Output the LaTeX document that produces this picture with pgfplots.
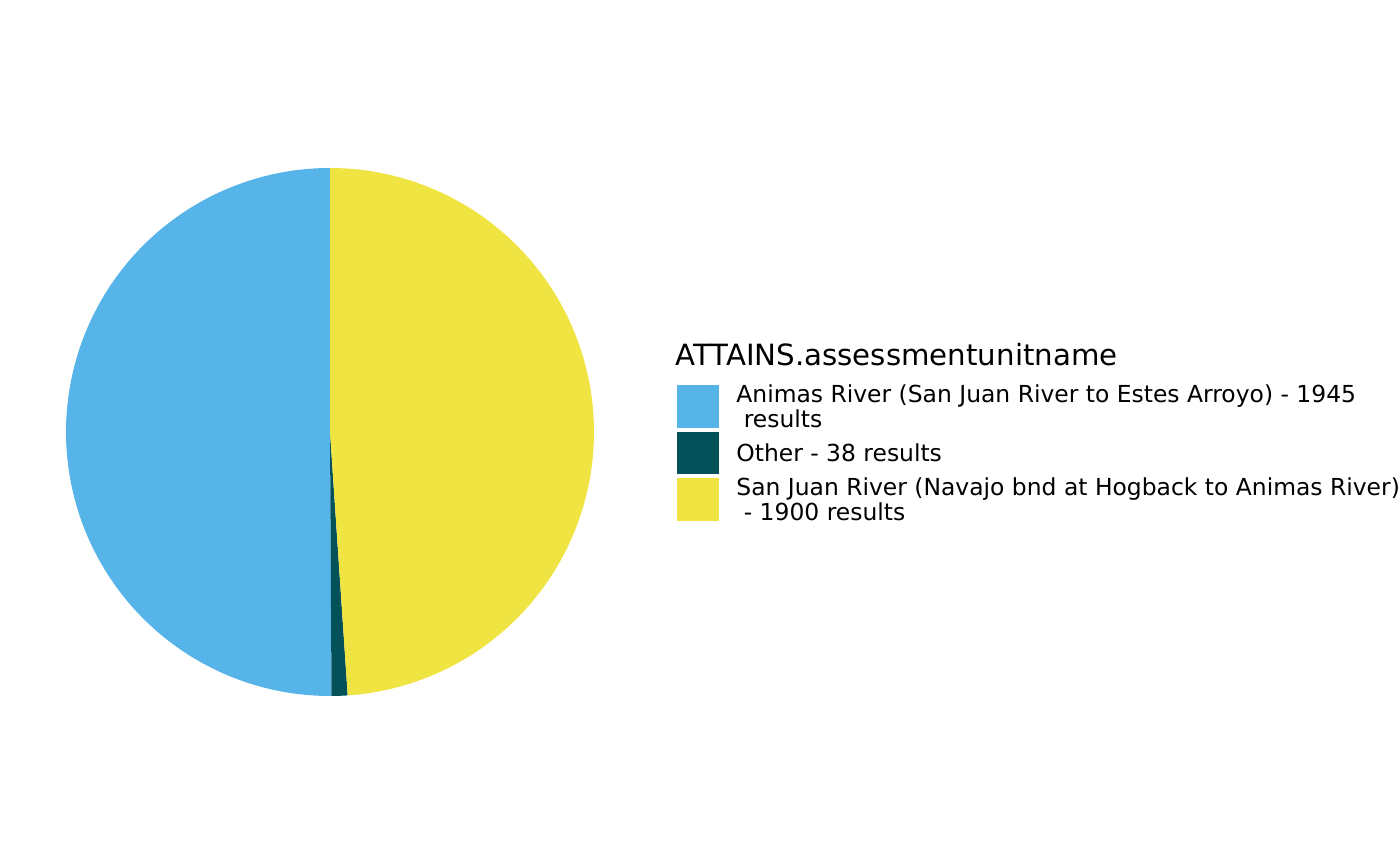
\documentclass[border=0pt]{standalone}
\usepackage{pgfplots}
\pgfplotsset{compat=1.18}
\usepackage{fontspec}
\setmainfont{DejaVu Sans}
\definecolor{cA}{HTML}{56B4E9}
\definecolor{cO}{HTML}{04515A}
\definecolor{cS}{HTML}{F0E442}
\begin{document}
\begin{tikzpicture}
\def\vA{1945}\def\vO{38}\def\vS{1900}
\pgfmathsetmacro\tot{\vA+\vO+\vS}
\pgfmathsetmacro\aA{90+360*(\vA/\tot)}
\pgfmathsetmacro\aO{\aA+360*(\vO/\tot)}
\begin{axis}[width=700pt,height=432.5pt,scale only axis,xmin=0,xmax=1400,ymin=0,ymax=865,hide axis,clip=false]
\path (axis cs:0,0) rectangle (axis cs:1400,865);
\addplot[fill=cA,draw=none,domain=90:\aA,samples=181,variable=\t] ({330+264*cos(\t)},{433+264*sin(\t)}) -- (axis cs:330,433) -- cycle;
\addplot[fill=cO,draw=none,domain=\aA:\aO,samples=10,variable=\t] ({330+264*cos(\t)},{433+264*sin(\t)}) -- (axis cs:330,433) -- cycle;
\addplot[fill=cS,draw=none,domain=\aO:450,samples=181,variable=\t] ({330+264*cos(\t)},{433+264*sin(\t)}) -- (axis cs:330,433) -- cycle;
% legend
\node[anchor=base west,inner sep=0,font=\fontsize{14.63}{17}\selectfont] at (axis cs:675,499) {ATTAINS.assessmentunitname};
\fill[cA] (axis cs:677,480) rectangle (axis cs:719,437);
\fill[cO] (axis cs:677,433) rectangle (axis cs:719,391);
\fill[cS] (axis cs:677,387) rectangle (axis cs:719,344);
\begin{scope}[every node/.style={anchor=base west,inner sep=0,font=\fontsize{11.71}{13.5}\selectfont}]
\node at (axis cs:736,462) {Animas River (San Juan River to Estes Arroyo) - 1945};
\node at (axis cs:736,437) {\ results};
\node at (axis cs:736,403) {Other - 38 results};
\node at (axis cs:736,369) {San Juan River (Navajo bnd at Hogback to Animas River)};
\node at (axis cs:736,344) {\ - 1900 results};
\end{scope}
\end{axis}
\end{tikzpicture}
\end{document}
